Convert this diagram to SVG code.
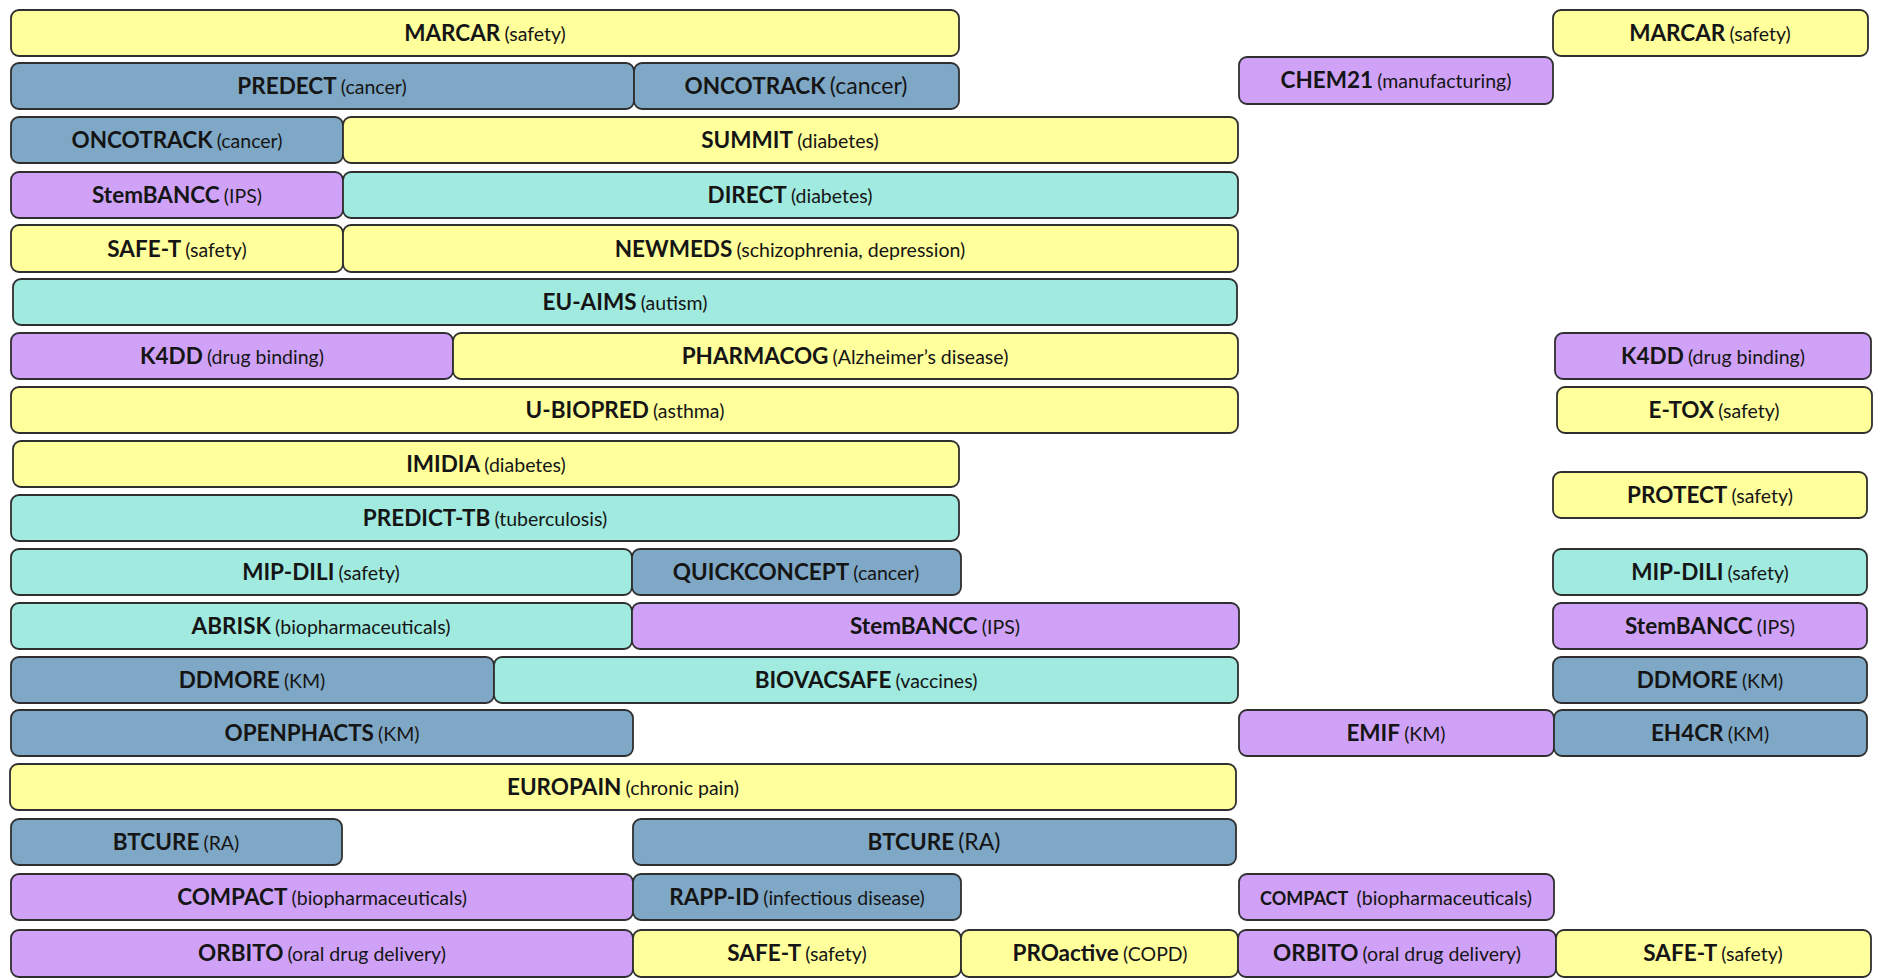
<svg xmlns="http://www.w3.org/2000/svg" width="1884" height="980" viewBox="0 0 1884 980">
<style>
rect{stroke:#2f2f2f;stroke-width:1.8}
.y{fill:#FFFF9C}
.b{fill:#7FA8C6}
.t{fill:#A0EADF}
.p{fill:#CFA2F8}
text{font-family:Lato,"Open Sans","Liberation Sans",sans-serif;text-anchor:middle;fill:#151515}
.n{font-weight:700;font-size:22.5px}
.s{font-weight:400;font-size:19.5px}
.L{font-weight:400;font-size:23px}
.n2{font-weight:700;font-size:18px}
</style>
<rect width="1884" height="980" fill="#ffffff" style="stroke:none"/>
<g id="connectors"/>
<g id="n1"><rect class="y" x="11" y="10" width="948" height="46" rx="8"/><text x="485" y="41"><tspan class="n">MARCAR</tspan> <tspan class="s">(safety)</tspan></text></g>
<g id="n2"><rect class="y" x="1553" y="10" width="315" height="46" rx="8"/><text x="1710" y="41"><tspan class="n">MARCAR</tspan> <tspan class="s">(safety)</tspan></text></g>
<g id="n3"><rect class="b" x="11" y="63" width="623" height="46" rx="8"/><text x="322" y="94"><tspan class="n">PREDECT</tspan> <tspan class="s">(cancer)</tspan></text></g>
<g id="n4"><rect class="b" x="634" y="63" width="325" height="46" rx="8"/><text x="796" y="94"><tspan class="n">ONCOTRACK</tspan> <tspan class="L">(cancer)</tspan></text></g>
<g id="n5"><rect class="p" x="1239" y="57" width="314" height="47" rx="8"/><text x="1396" y="88"><tspan class="n">CHEM21</tspan> <tspan class="s">(manufacturing)</tspan></text></g>
<g id="n6"><rect class="b" x="11" y="117" width="332" height="46" rx="8"/><text x="177" y="148"><tspan class="n">ONCOTRACK</tspan> <tspan class="s">(cancer)</tspan></text></g>
<g id="n7"><rect class="y" x="343" y="117" width="895" height="46" rx="8"/><text x="790" y="148"><tspan class="n">SUMMIT</tspan> <tspan class="s">(diabetes)</tspan></text></g>
<g id="n8"><rect class="p" x="11" y="172" width="332" height="46" rx="8"/><text x="177" y="203"><tspan class="n">StemBANCC</tspan> <tspan class="s">(IPS)</tspan></text></g>
<g id="n9"><rect class="t" x="343" y="172" width="895" height="46" rx="8"/><text x="790" y="203"><tspan class="n">DIRECT</tspan> <tspan class="s">(diabetes)</tspan></text></g>
<g id="n10"><rect class="y" x="11" y="225" width="332" height="47" rx="8"/><text x="177" y="257"><tspan class="n">SAFE-T</tspan> <tspan class="s">(safety)</tspan></text></g>
<g id="n11"><rect class="y" x="343" y="225" width="895" height="47" rx="8"/><text x="790" y="257"><tspan class="n">NEWMEDS</tspan> <tspan class="s">(schizophrenia, depression)</tspan></text></g>
<g id="n12"><rect class="t" x="13" y="279" width="1224" height="46" rx="8"/><text x="625" y="310"><tspan class="n">EU-AIMS</tspan> <tspan class="s">(autism)</tspan></text></g>
<g id="n13"><rect class="p" x="11" y="333" width="442" height="46" rx="8"/><text x="232" y="364"><tspan class="n">K4DD</tspan> <tspan class="s">(drug binding)</tspan></text></g>
<g id="n14"><rect class="y" x="453" y="333" width="785" height="46" rx="8"/><text x="845" y="364"><tspan class="n">PHARMACOG</tspan> <tspan class="s">(Alzheimer’s disease)</tspan></text></g>
<g id="n15"><rect class="p" x="1555" y="333" width="316" height="46" rx="8"/><text x="1713" y="364"><tspan class="n">K4DD</tspan> <tspan class="s">(drug binding)</tspan></text></g>
<g id="n16"><rect class="y" x="11" y="387" width="1227" height="46" rx="8"/><text x="625" y="418"><tspan class="n">U-BIOPRED</tspan> <tspan class="s">(asthma)</tspan></text></g>
<g id="n17"><rect class="y" x="1557" y="387" width="315" height="46" rx="8"/><text x="1714" y="418"><tspan class="n">E-TOX</tspan> <tspan class="s">(safety)</tspan></text></g>
<g id="n18"><rect class="y" x="13" y="441" width="946" height="46" rx="8"/><text x="486" y="472"><tspan class="n">IMIDIA</tspan> <tspan class="s">(diabetes)</tspan></text></g>
<g id="n19"><rect class="y" x="1553" y="472" width="314" height="46" rx="8"/><text x="1710" y="503"><tspan class="n">PROTECT</tspan> <tspan class="s">(safety)</tspan></text></g>
<g id="n20"><rect class="t" x="11" y="495" width="948" height="46" rx="8"/><text x="485" y="526"><tspan class="n">PREDICT-TB</tspan> <tspan class="s">(tuberculosis)</tspan></text></g>
<g id="n21"><rect class="t" x="11" y="549" width="621" height="46" rx="8"/><text x="321" y="580"><tspan class="n">MIP-DILI</tspan> <tspan class="s">(safety)</tspan></text></g>
<g id="n22"><rect class="b" x="632" y="549" width="329" height="46" rx="8"/><text x="796" y="580"><tspan class="n">QUICKCONCEPT</tspan> <tspan class="s">(cancer)</tspan></text></g>
<g id="n23"><rect class="t" x="1553" y="549" width="314" height="46" rx="8"/><text x="1710" y="580"><tspan class="n">MIP-DILI</tspan> <tspan class="s">(safety)</tspan></text></g>
<g id="n24"><rect class="t" x="11" y="603" width="621" height="46" rx="8"/><text x="321" y="634"><tspan class="n">ABRISK</tspan> <tspan class="s">(biopharmaceuticals)</tspan></text></g>
<g id="n25"><rect class="p" x="632" y="603" width="607" height="46" rx="8"/><text x="935" y="634"><tspan class="n">StemBANCC</tspan> <tspan class="s">(IPS)</tspan></text></g>
<g id="n26"><rect class="p" x="1553" y="603" width="314" height="46" rx="8"/><text x="1710" y="634"><tspan class="n">StemBANCC</tspan> <tspan class="s">(IPS)</tspan></text></g>
<g id="n27"><rect class="b" x="11" y="657" width="483" height="46" rx="8"/><text x="252" y="688"><tspan class="n">DDMORE</tspan> <tspan class="s">(KM)</tspan></text></g>
<g id="n28"><rect class="t" x="494" y="657" width="744" height="46" rx="8"/><text x="866" y="688"><tspan class="n">BIOVACSAFE</tspan> <tspan class="s">(vaccines)</tspan></text></g>
<g id="n29"><rect class="b" x="1553" y="657" width="314" height="46" rx="8"/><text x="1710" y="688"><tspan class="n">DDMORE</tspan> <tspan class="s">(KM)</tspan></text></g>
<g id="n30"><rect class="b" x="11" y="710" width="622" height="46" rx="8"/><text x="322" y="741"><tspan class="n">OPENPHACTS</tspan> <tspan class="s">(KM)</tspan></text></g>
<g id="n31"><rect class="p" x="1239" y="710" width="315" height="46" rx="8"/><text x="1396" y="741"><tspan class="n">EMIF</tspan> <tspan class="s">(KM)</tspan></text></g>
<g id="n32"><rect class="b" x="1554" y="710" width="313" height="46" rx="8"/><text x="1710" y="741"><tspan class="n">EH4CR</tspan> <tspan class="s">(KM)</tspan></text></g>
<g id="n33"><rect class="y" x="10" y="764" width="1226" height="46" rx="8"/><text x="623" y="795"><tspan class="n">EUROPAIN</tspan> <tspan class="s">(chronic pain)</tspan></text></g>
<g id="n34"><rect class="b" x="11" y="819" width="331" height="46" rx="8"/><text x="176" y="850"><tspan class="n">BTCURE</tspan> <tspan class="s">(RA)</tspan></text></g>
<g id="n35"><rect class="b" x="633" y="819" width="603" height="46" rx="8"/><text x="934" y="850"><tspan class="n">BTCURE</tspan> <tspan class="L">(RA)</tspan></text></g>
<g id="n36"><rect class="p" x="11" y="874" width="622" height="46" rx="8"/><text x="322" y="905"><tspan class="n">COMPACT</tspan> <tspan class="s">(biopharmaceuticals)</tspan></text></g>
<g id="n37"><rect class="b" x="633" y="874" width="328" height="46" rx="8"/><text x="797" y="905"><tspan class="n">RAPP-ID</tspan> <tspan class="s">(infectious disease)</tspan></text></g>
<g id="n38"><rect class="p" x="1239" y="874" width="315" height="46" rx="8"/><text x="1396" y="905" xml:space="preserve"><tspan class="n2">COMPACT</tspan>  <tspan class="s">(biopharmaceuticals)</tspan></text></g>
<g id="n39"><rect class="p" x="11" y="930" width="622" height="47" rx="8"/><text x="322" y="961"><tspan class="n">ORBITO</tspan> <tspan class="s">(oral drug delivery)</tspan></text></g>
<g id="n40"><rect class="y" x="633" y="930" width="328" height="47" rx="8"/><text x="797" y="961"><tspan class="n">SAFE-T</tspan> <tspan class="s">(safety)</tspan></text></g>
<g id="n41"><rect class="y" x="961" y="930" width="277" height="47" rx="8"/><text x="1100" y="961"><tspan class="n">PROactive</tspan> <tspan class="s">(COPD)</tspan></text></g>
<g id="n42"><rect class="p" x="1238" y="930" width="318" height="47" rx="8"/><text x="1397" y="961"><tspan class="n">ORBITO</tspan> <tspan class="s">(oral drug delivery)</tspan></text></g>
<g id="n43"><rect class="y" x="1556" y="930" width="315" height="47" rx="8"/><text x="1713" y="961"><tspan class="n">SAFE-T</tspan> <tspan class="s">(safety)</tspan></text></g>
</svg>
